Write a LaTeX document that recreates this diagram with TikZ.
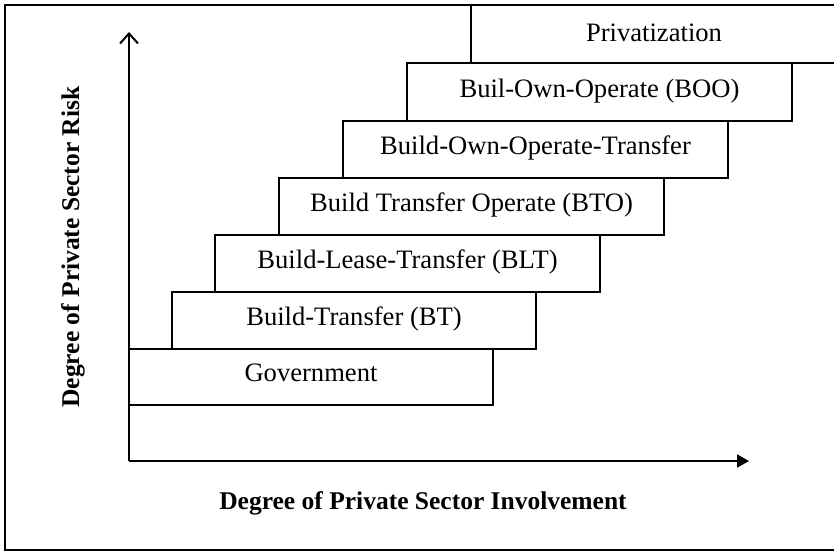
\documentclass[tikz,border=0pt]{standalone}
\usepackage{fontspec}
\setmainfont{Liberation Serif}
\usetikzlibrary{fit,arrows.meta}
\tikzset{
  stair/.style={draw, line width=1pt, inner sep=0pt, fill=white},
  stairtext/.style={anchor=base, inner sep=0pt, font=\fontsize{13.3}{15}\selectfont},
  axislabel/.style={font=\fontsize{12.75}{15}\selectfont\bfseries},
  frameline/.style={line width=1pt},
  axisline/.style={line width=1pt}
}
\begin{document}
\begin{tikzpicture}[x=0.5pt,y=-0.5pt]
\useasboundingbox (0,0) rectangle (834,553);
% frame (right side is cropped off)
\coordinate (ftr) at (845,5);
\coordinate (ftl) at (5,5);
\coordinate (fbl) at (5,550);
\coordinate (fbr) at (845,550);
\draw[frameline] (ftr) -- (ftl) -- (fbl) -- (fbr);
% axes
\coordinate (o) at (129,461);
\coordinate (ytop) at (129,32);
\coordinate (xend) at (749,461);
\draw[axisline, -{Straight Barb[length=5pt,width=9pt]}] (o) -- (ytop);
\draw[axisline, -{Triangle[length=6pt,width=6.5pt]}] (o) -- (xend);
% stairs
\node[stair, fit={(129,349)(493,405)}] (gov) {};
\node[stair, fit={(172,292)(536,349)}] (bt) {};
\node[stair, fit={(215,235)(600,292)}] (blt) {};
\node[stair, fit={(279,178)(664,235)}] (bto) {};
\node[stair, fit={(343,121)(728,178)}] (boot) {};
\node[stair, fit={(407,63)(792,121)}] (boo) {};
\node[stair, fit={(471,5)(837,63)}] (priv) {};
\node[stairtext] (govt) at ([yshift=12.5pt]gov.south) {Government};
\node[stairtext] (btt) at ([yshift=12.5pt]bt.south) {Build-Transfer (BT)};
\node[stairtext] (bltt) at ([yshift=12.5pt]blt.south) {Build-Lease-Transfer (BLT)};
\node[stairtext] (btot) at ([yshift=12.5pt]bto.south) {Build Transfer Operate (BTO)};
\node[stairtext] (boott) at ([yshift=12.5pt]boot.south) {Build-Own-Operate-Transfer};
\node[stairtext] (boot2) at ([yshift=12.5pt]boo.south) {Buil-Own-Operate (BOO)};
\node[stairtext] (privt) at ([yshift=11.5pt]priv.south) {Privatization};
% axis labels
\node[axislabel] (xlab) at (423,503) {Degree of Private Sector Involvement};
\node[axislabel, rotate=90] (ylab) at (73,247) {Degree of Private Sector Risk};
\end{tikzpicture}
\end{document}
